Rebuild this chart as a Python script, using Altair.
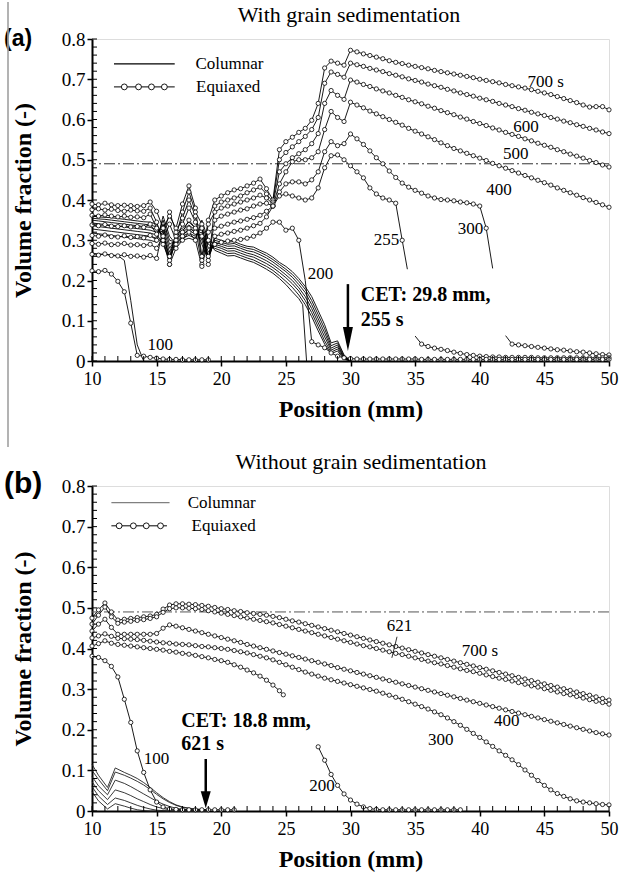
import altair as alt
import pandas as pd

SERIF = "Liberation Serif"
SANS = "Liberation Sans"
PLOT_W = 517
A_H = 322
B_H = 325
STEP = 0.5

X_TICKS = [10, 15, 20, 25, 30, 35, 40, 45, 50]
Y_TICKS = [0, 0.1, 0.2, 0.3, 0.4, 0.5, 0.6, 0.7, 0.8]
X_MINOR = list(range(10, 51))
Y_MINOR = [round(0.02 * i, 2) for i in range(41)]

# ---------------- (a) with grain sedimentation ----------------
# equiaxed volume fraction, sampled every 0.5 mm from the given start position
A_EQ_700 = [0.390, 0.388, 0.392, 0.388, 0.386, 0.387, 0.386, 0.384, 0.386, 0.395,
            0.372, 0.330, 0.360, 0.330, 0.390, 0.435, 0.380, 0.260, 0.350, 0.400,
            0.410, 0.418, 0.425, 0.428, 0.435, 0.442, 0.452, 0.428, 0.400, 0.525,
            0.545, 0.556, 0.568, 0.578, 0.598, 0.640, 0.728, 0.745, 0.740, 0.735,
            0.772,
            0.768, 0.763, 0.759, 0.755, 0.751, 0.746, 0.742, 0.739, 0.735, 0.732,
            0.729, 0.726, 0.722, 0.719, 0.716, 0.713, 0.710, 0.707, 0.704, 0.700,
            0.697, 0.694, 0.691, 0.687, 0.684, 0.681, 0.678, 0.674, 0.670, 0.666,
            0.662, 0.657, 0.652, 0.647, 0.642, 0.636, 0.631, 0.632, 0.632, 0.624]
A_EQ_600 = [0.376, 0.378, 0.375, 0.377, 0.374, 0.372, 0.375, 0.373, 0.372, 0.380,
            0.345, 0.300, 0.240, 0.310, 0.370, 0.420, 0.370, 0.340, 0.240, 0.385,
            0.395, 0.400, 0.405, 0.410, 0.418, 0.425, 0.432, 0.415, 0.395, 0.500,
            0.518, 0.532, 0.545, 0.558, 0.575, 0.605, 0.690, 0.718, 0.712, 0.705,
            0.740,
            0.736, 0.732, 0.727, 0.723, 0.719, 0.714, 0.710, 0.706, 0.701, 0.697,
            0.693, 0.688, 0.684, 0.680, 0.675, 0.671, 0.666, 0.662, 0.658, 0.653,
            0.649, 0.645, 0.640, 0.636, 0.632, 0.627, 0.623, 0.618, 0.614, 0.610,
            0.605, 0.601, 0.596, 0.592, 0.587, 0.583, 0.578, 0.574, 0.569, 0.565]
A_EQ_500 = [0.362, 0.360, 0.363, 0.360, 0.358, 0.360, 0.357, 0.358, 0.356, 0.365,
            0.330, 0.310, 0.370, 0.320, 0.355, 0.400, 0.360, 0.250, 0.340, 0.370,
            0.380, 0.385, 0.390, 0.395, 0.400, 0.405, 0.412, 0.405, 0.390, 0.470,
            0.490, 0.505, 0.515, 0.525, 0.540, 0.565, 0.640, 0.672, 0.660, 0.650,
            0.698,
            0.693, 0.687, 0.682, 0.676, 0.671, 0.666, 0.660, 0.655, 0.649, 0.644,
            0.639, 0.633, 0.628, 0.622, 0.617, 0.612, 0.606, 0.601, 0.595, 0.590,
            0.585, 0.579, 0.574, 0.568, 0.563, 0.558, 0.552, 0.547, 0.541, 0.536,
            0.531, 0.525, 0.520, 0.514, 0.509, 0.504, 0.498, 0.493, 0.487, 0.482]
A_EQ_400 = [0.338, 0.336, 0.339, 0.335, 0.334, 0.336, 0.333, 0.334, 0.332, 0.340,
            0.315, 0.290, 0.250, 0.300, 0.340, 0.380, 0.345, 0.330, 0.250, 0.350,
            0.360, 0.365, 0.370, 0.375, 0.378, 0.385, 0.390, 0.392, 0.385, 0.440,
            0.470, 0.495, 0.500, 0.500, 0.505, 0.520, 0.575, 0.620, 0.605, 0.595,
            0.643,
            0.636, 0.629, 0.621, 0.614, 0.607, 0.600, 0.593, 0.586, 0.578, 0.571,
            0.564, 0.557, 0.550, 0.542, 0.535, 0.528, 0.522, 0.516, 0.510, 0.504,
            0.498, 0.491, 0.485, 0.479, 0.473, 0.467, 0.461, 0.455, 0.449, 0.443,
            0.437, 0.430, 0.424, 0.418, 0.412, 0.406, 0.400, 0.394, 0.388, 0.382]
A_EQ_300 = [0.312, 0.310, 0.313, 0.309, 0.308, 0.311, 0.307, 0.309, 0.306, 0.312,
            0.300, 0.300, 0.340, 0.300, 0.320, 0.350, 0.330, 0.240, 0.320, 0.330,
            0.335, 0.340, 0.345, 0.348, 0.352, 0.356, 0.362, 0.372, 0.385, 0.420,
            0.440, 0.445, 0.445, 0.440, 0.450, 0.470, 0.520, 0.545, 0.535, 0.540,
            0.564, 0.552, 0.538, 0.522, 0.505, 0.490, 0.472, 0.456, 0.442, 0.432,
            0.424, 0.417, 0.410, 0.405, 0.401, 0.400, 0.398, 0.395, 0.393, 0.390,
            0.385, 0.330]
A_EQ_300_END = [(41.0, 0.230)]
A_EQ_300_TAIL = [0.042, 0.040, 0.038, 0.036, 0.034, 0.032, 0.030, 0.028,
                 0.027, 0.025, 0.023, 0.022, 0.020, 0.018, 0.016, 0.015]
A_EQ_300_TAIL_START = [(42.0, 0.063)]
A_EQ_255 = [0.292, 0.290, 0.293, 0.289, 0.290, 0.292, 0.288, 0.289, 0.287, 0.290,
            0.280, 0.310, 0.260, 0.290, 0.310, 0.330, 0.320, 0.310, 0.260, 0.310,
            0.315, 0.318, 0.322, 0.325, 0.330, 0.336, 0.342, 0.358, 0.385, 0.410,
            0.415, 0.410, 0.405, 0.400, 0.405, 0.430, 0.480, 0.510, 0.512, 0.500,
            0.485, 0.470, 0.455, 0.430, 0.415, 0.405, 0.400, 0.392, 0.300]
A_EQ_255_END = [(34.4, 0.228)]
A_EQ_255_TAIL = [0.042, 0.036, 0.032, 0.029, 0.026, 0.022, 0.019, 0.016, 0.014, 0.012,
                 0.011, 0.010, 0.010, 0.009, 0.009, 0.009, 0.009, 0.009, 0.008, 0.008,
                 0.008, 0.008, 0.008, 0.008, 0.008, 0.008, 0.008, 0.008, 0.008, 0.008]
A_EQ_255_TAIL_START = [(35.0, 0.062)]
A_EQ_200 = [0.265, 0.263, 0.266, 0.262, 0.261, 0.264, 0.260, 0.261, 0.258, 0.262,
            0.255, 0.330, 0.240, 0.280, 0.300, 0.320, 0.300, 0.235, 0.300, 0.290,
            0.295, 0.298, 0.300, 0.302, 0.305, 0.310, 0.318, 0.330, 0.345, 0.345,
            0.325, 0.330, 0.300]
A_EQ_200_DROP = [(26.5, 0.200)]
A_EQ_200_TAIL = [0.048, 0.040, 0.033, 0.020, 0.012, 0.008, 0.006,
                 0.005, 0.005, 0.005, 0.005, 0.005, 0.005, 0.005, 0.005, 0.005, 0.005,
                 0.004, 0.004, 0.004, 0.004, 0.004, 0.004, 0.004, 0.004, 0.004, 0.004,
                 0.004, 0.004, 0.004, 0.004, 0.004, 0.004, 0.004, 0.004, 0.004, 0.004,
                 0.004, 0.004, 0.004, 0.004, 0.004, 0.004, 0.004, 0.004, 0.004, 0.004]
A_EQ_100 = [0.224, 0.222, 0.225, 0.216, 0.198, 0.172, 0.094, 0.014, 0.012, 0.009,
            0.007, 0.005, 0.004, 0.004, 0.003, 0.003, 0.003, 0.003, 0.003]

# columnar volume fraction, every 0.5 mm from x = 10
A_COL_700 = [0.360, 0.358, 0.357, 0.356, 0.354, 0.352, 0.350, 0.348, 0.346, 0.345,
             0.340, 0.300, 0.250, 0.320, 0.330, 0.345, 0.330, 0.290, 0.250, 0.305,
             0.300, 0.295, 0.297, 0.290, 0.285, 0.283, 0.275, 0.268, 0.258, 0.245,
             0.235, 0.222, 0.205, 0.185, 0.160, 0.125, 0.090, 0.045, 0.050, 0.015, 0.000]
A_COL_600 = [0.355, 0.353, 0.352, 0.350, 0.348, 0.346, 0.344, 0.342, 0.340, 0.338,
             0.333, 0.310, 0.260, 0.315, 0.325, 0.338, 0.325, 0.300, 0.255, 0.300,
             0.295, 0.290, 0.292, 0.285, 0.280, 0.277, 0.270, 0.262, 0.252, 0.240,
             0.228, 0.215, 0.198, 0.178, 0.150, 0.115, 0.080, 0.038, 0.045, 0.012, 0.000]
A_COL_500 = [0.350, 0.348, 0.346, 0.344, 0.342, 0.340, 0.338, 0.336, 0.334, 0.332,
             0.327, 0.320, 0.270, 0.310, 0.320, 0.332, 0.320, 0.310, 0.260, 0.295,
             0.290, 0.285, 0.286, 0.280, 0.274, 0.271, 0.264, 0.256, 0.246, 0.234,
             0.222, 0.208, 0.190, 0.170, 0.140, 0.105, 0.070, 0.032, 0.040, 0.010, 0.000]
A_COL_400 = [0.343, 0.341, 0.339, 0.337, 0.335, 0.333, 0.331, 0.329, 0.327, 0.325,
             0.320, 0.330, 0.280, 0.305, 0.315, 0.325, 0.315, 0.320, 0.270, 0.290,
             0.285, 0.279, 0.280, 0.274, 0.268, 0.264, 0.257, 0.249, 0.239, 0.227,
             0.214, 0.200, 0.182, 0.160, 0.130, 0.095, 0.060, 0.027, 0.035, 0.008, 0.000]
A_COL_300 = [0.336, 0.334, 0.332, 0.330, 0.328, 0.326, 0.324, 0.322, 0.320, 0.318,
             0.313, 0.340, 0.290, 0.300, 0.310, 0.318, 0.310, 0.330, 0.280, 0.285,
             0.280, 0.273, 0.274, 0.268, 0.262, 0.258, 0.250, 0.242, 0.232, 0.220,
             0.207, 0.192, 0.174, 0.150, 0.120, 0.085, 0.050, 0.022, 0.030, 0.006, 0.000]
A_COL_255 = [0.328, 0.326, 0.324, 0.322, 0.320, 0.318, 0.316, 0.314, 0.312, 0.310,
             0.305, 0.350, 0.300, 0.295, 0.305, 0.312, 0.305, 0.340, 0.290, 0.280,
             0.274, 0.267, 0.268, 0.262, 0.256, 0.251, 0.243, 0.235, 0.225, 0.212,
             0.198, 0.183, 0.164, 0.140, 0.110, 0.075, 0.042, 0.018, 0.025, 0.004, 0.000]
A_COL_200 = [0.318, 0.316, 0.314, 0.312, 0.310, 0.308, 0.306, 0.304, 0.302, 0.300,
             0.295, 0.360, 0.310, 0.290, 0.300, 0.305, 0.300, 0.350, 0.300, 0.275,
             0.268, 0.261, 0.262, 0.256, 0.250, 0.245, 0.237, 0.228, 0.218, 0.205,
             0.190, 0.172, 0.155]
A_COL_200_DROP = [(26.3, 0.140), (26.6, 0.000)]
A_COL_100 = [0.268, 0.266, 0.265, 0.263, 0.262, 0.250, 0.150, 0.040, 0.000]

A_LABELS = [("100", 14.3, 0.040), ("200", 26.7, 0.216), ("255", 31.8, 0.300),
            ("300", 38.3, 0.328), ("400", 40.5, 0.425), ("500", 41.8, 0.514),
            ("600", 42.6, 0.581), ("700 s", 43.7, 0.693)]
A_CET = [("CET: 29.8 mm,", 30.8, 0.164), ("255 s", 30.8, 0.102)]
A_ARROW = dict(x=29.8, top=0.191, tip=0.025)

# ---------------- (b) without grain sedimentation ----------------
B_EQ_700 = [0.475, 0.495, 0.512, 0.490, 0.470, 0.472, 0.474, 0.476, 0.478, 0.480,
            0.484, 0.497, 0.507, 0.510, 0.510, 0.509, 0.508, 0.506, 0.504, 0.501,
            0.498, 0.496, 0.493, 0.491, 0.488, 0.486, 0.484, 0.482, 0.479, 0.476,
            0.472, 0.468, 0.465, 0.461, 0.457, 0.453, 0.449, 0.445, 0.441, 0.437,
            0.433, 0.429, 0.425, 0.421, 0.417, 0.413, 0.409, 0.405, 0.401, 0.397,
            0.393, 0.389, 0.385, 0.381, 0.377, 0.373, 0.369, 0.365, 0.361, 0.357,
            0.353, 0.349, 0.345, 0.341, 0.337, 0.333, 0.329, 0.325, 0.321, 0.317,
            0.313, 0.309, 0.305, 0.301, 0.297, 0.293, 0.289, 0.285, 0.281, 0.277, 0.273]
B_EQ_621 = [0.460, 0.482, 0.502, 0.478, 0.462, 0.465, 0.467, 0.469, 0.471, 0.474,
            0.478, 0.489, 0.498, 0.500, 0.500, 0.499, 0.498, 0.496, 0.493, 0.490,
            0.487, 0.484, 0.481, 0.478, 0.475, 0.472, 0.469, 0.466, 0.463, 0.459,
            0.455, 0.451, 0.447, 0.443, 0.439, 0.435, 0.431, 0.427, 0.423, 0.419,
            0.415, 0.411, 0.407, 0.404, 0.400, 0.396, 0.392, 0.388, 0.385, 0.381,
            0.377, 0.373, 0.369, 0.365, 0.362, 0.358, 0.354, 0.350, 0.346, 0.343,
            0.339, 0.335, 0.331, 0.327, 0.324, 0.320, 0.316, 0.312, 0.308, 0.305,
            0.301, 0.297, 0.293, 0.289, 0.286, 0.282, 0.278, 0.274, 0.270, 0.267, 0.263]
B_EQ_400 = [0.443, 0.460, 0.472, 0.452, 0.435, 0.435, 0.435, 0.435, 0.435, 0.435,
            0.437, 0.450, 0.458, 0.455, 0.451, 0.447, 0.443, 0.439, 0.435, 0.431,
            0.427, 0.423, 0.419, 0.415, 0.410, 0.406, 0.402, 0.398, 0.394, 0.390,
            0.386, 0.382, 0.378, 0.374, 0.370, 0.366, 0.362, 0.358, 0.353, 0.349,
            0.345, 0.341, 0.337, 0.333, 0.329, 0.325, 0.321, 0.317, 0.313, 0.309,
            0.305, 0.301, 0.297, 0.293, 0.289, 0.285, 0.281, 0.277, 0.273, 0.269,
            0.265, 0.261, 0.257, 0.253, 0.249, 0.245, 0.241, 0.237, 0.233, 0.229,
            0.225, 0.221, 0.217, 0.213, 0.209, 0.205, 0.201, 0.197, 0.193, 0.190, 0.187]
B_EQ_300 = [0.426, 0.431, 0.436, 0.430, 0.425, 0.424, 0.423, 0.422, 0.420, 0.418,
            0.416, 0.414, 0.413, 0.411, 0.410, 0.409, 0.407, 0.405, 0.404, 0.402,
            0.400, 0.398, 0.395, 0.392, 0.389, 0.385, 0.381, 0.377, 0.372, 0.366,
            0.360, 0.354, 0.348, 0.342, 0.337, 0.332, 0.327, 0.323, 0.319, 0.315,
            0.311, 0.307, 0.303, 0.299, 0.295, 0.290, 0.285, 0.280, 0.275, 0.269,
            0.263, 0.257, 0.251, 0.244, 0.237, 0.229, 0.220, 0.211, 0.201, 0.191,
            0.181, 0.170, 0.159, 0.148, 0.137, 0.126, 0.114, 0.101, 0.088, 0.075,
            0.063, 0.052, 0.043, 0.036, 0.030, 0.025, 0.022, 0.020, 0.018, 0.016, 0.015]
B_EQ_200 = [0.406, 0.412, 0.419, 0.413, 0.410, 0.408, 0.406, 0.404, 0.402, 0.400,
            0.398, 0.396, 0.393, 0.391, 0.388, 0.386, 0.383, 0.380, 0.377, 0.373,
            0.370, 0.366, 0.360, 0.354, 0.347, 0.340, 0.332, 0.322, 0.310, 0.296]
B_EQ_200_LAST = [0.286]
B_EQ_200_TAIL = [0.158, 0.125, 0.090, 0.063, 0.042, 0.027, 0.017, 0.010, 0.006, 0.004,
                 0.003, 0.003, 0.003, 0.003, 0.003, 0.003, 0.003, 0.003, 0.003, 0.003,
                 0.003, 0.003, 0.003]
B_EQ_100 = [0.381, 0.378, 0.370, 0.356, 0.330, 0.275, 0.218, 0.148, 0.095, 0.052,
            0.022, 0.010, 0.005, 0.004, 0.003, 0.003, 0.003, 0.003, 0.003, 0.003,
            0.003, 0.003, 0.003]

# columnar volume fraction near the chill end
B_COL_X = [10, 10.5, 11.2, 11.8, 12.5, 13, 13.5, 14, 14.5, 15, 15.5, 16, 16.5, 17, 17.5, 18, 18.5, 19]
B_COL = {
    "700": [0.115, 0.088, 0.058, 0.106, 0.095, 0.088, 0.080, 0.070, 0.058, 0.045, 0.033, 0.023, 0.015, 0.010, 0.007, 0.005, 0.004, 0.003],
    "621": [0.100, 0.078, 0.050, 0.096, 0.088, 0.081, 0.073, 0.064, 0.053, 0.041, 0.030, 0.021, 0.014, 0.009, 0.006, 0.004, 0.003, 0.002],
    "400": [0.085, 0.062, 0.040, 0.076, 0.068, 0.060, 0.051, 0.042, 0.033, 0.024, 0.017, 0.011, 0.007, 0.004, 0.003, 0.002, 0.001, 0.000],
    "300": [0.072, 0.050, 0.028, 0.052, 0.045, 0.038, 0.030, 0.023, 0.016, 0.010, 0.006, 0.003, 0.002, 0.001, 0.000, 0.000, 0.000, 0.000],
    "200": [0.060, 0.037, 0.016, 0.032, 0.026, 0.020, 0.014, 0.009, 0.005, 0.002, 0.001, 0.000, 0.000, 0.000, 0.000, 0.000, 0.000, 0.000],
    "100": [0.048, 0.025, 0.005, 0.018, 0.012, 0.007, 0.003, 0.001, 0.000, 0.000, 0.000, 0.000, 0.000, 0.000, 0.000, 0.000, 0.000, 0.000],
}

B_LABELS = [("100", 14.0, 0.128), ("200", 26.8, 0.062), ("300", 36.0, 0.175),
            ("400", 41.1, 0.222), ("700 s", 38.6, 0.394), ("621", 32.8, 0.456)]
B_LEADER = [(33.6, 0.429, 33.2, 0.377)]
B_CET = [("CET: 18.8 mm,", 16.9, 0.222), ("621 s", 16.9, 0.165)]
B_ARROW = dict(x=18.8, top=0.128, tip=0.007)

CRITICAL = 0.49


def grid(x0, ys):
    return [(round(x0 + STEP * i, 2), v) for i, v in enumerate(ys)]


def eq_rows(name, pieces, extras=()):
    rows = []
    for x0, ys in pieces:
        rows += [dict(series=name, x=x, y=v, dot=True) for x, v in grid(x0, ys)]
    rows += [dict(series=name, x=x, y=v, dot=False) for x, v in extras]
    return rows


def col_rows(name, x0, ys, extras=()):
    rows = [dict(series=name, x=x, y=v) for x, v in grid(x0, ys)]
    rows += [dict(series=name, x=x, y=v) for x, v in extras]
    return rows


a_eq = pd.DataFrame(
    eq_rows("700", [(10, A_EQ_700)]) + eq_rows("600", [(10, A_EQ_600)])
    + eq_rows("500", [(10, A_EQ_500)]) + eq_rows("400", [(10, A_EQ_400)])
    + eq_rows("300", [(10, A_EQ_300)], A_EQ_300_END)
    + eq_rows("300 tail", [(42.5, A_EQ_300_TAIL)], A_EQ_300_TAIL_START)
    + eq_rows("255", [(10, A_EQ_255)], A_EQ_255_END)
    + eq_rows("255 tail", [(35.5, A_EQ_255_TAIL)], A_EQ_255_TAIL_START)
    + eq_rows("200", [(10, A_EQ_200), (27, A_EQ_200_TAIL)], A_EQ_200_DROP)
    + eq_rows("100", [(10, A_EQ_100)])
)
a_col = pd.DataFrame(
    col_rows("700", 10, A_COL_700) + col_rows("600", 10, A_COL_600)
    + col_rows("500", 10, A_COL_500) + col_rows("400", 10, A_COL_400)
    + col_rows("300", 10, A_COL_300) + col_rows("255", 10, A_COL_255)
    + col_rows("200", 10, A_COL_200, A_COL_200_DROP) + col_rows("100", 10, A_COL_100)
)
b_eq = pd.DataFrame(
    eq_rows("700", [(10, B_EQ_700)]) + eq_rows("621", [(10, B_EQ_621)])
    + eq_rows("400", [(10, B_EQ_400)]) + eq_rows("300", [(10, B_EQ_300)])
    + eq_rows("200", [(10, B_EQ_200), (24.8, B_EQ_200_LAST)])
    + eq_rows("200 tail", [(27.5, B_EQ_200_TAIL)])
    + eq_rows("100", [(10, B_EQ_100)])
)
b_col = pd.DataFrame([dict(series=k, x=x, y=v) for k, ys in B_COL.items() for x, v in zip(B_COL_X, ys)])


def xq(field="x"):
    return alt.X(f"{field}:Q", scale=alt.Scale(domain=[10, 50], nice=False, zero=False),
                 axis=alt.Axis(values=X_TICKS, format="d", grid=False, title="Position (mm)",
                               labelFont=SERIF, labelFontSize=18, labelColor="black",
                               labelPadding=4, labelFlush=False, labelOverlap=False,
                               tickSize=5, tickWidth=1.5, tickColor="black",
                               domainColor="black", domainWidth=2,
                               titleFont=SERIF, titleFontSize=24, titleFontWeight="bold",
                               titleColor="black", titleY=48, titleBaseline="middle"))


def yq(h, field="y"):
    return alt.Y(f"{field}:Q", scale=alt.Scale(domain=[0, 0.8], nice=False, zero=False),
                 axis=alt.Axis(values=Y_TICKS, grid=False, title="Volume fraction (-)",
                               labelExpr="datum.value == 0 ? '0' : format(datum.value, '.1f')",
                               labelFont=SERIF, labelFontSize=19, labelColor="black",
                               labelPadding=2, labelFlush=False, labelOverlap=False,
                               tickSize=5, tickWidth=1.5, tickColor="black",
                               domainColor="black", domainWidth=2,
                               titleFont=SERIF, titleFontSize=24, titleFontWeight="bold",
                               titleColor="black", titleX=-69, titleY=h / 2, titleAngle=270,
                               titleAlign="center", titleBaseline="middle"))


def one(**kw):
    return pd.DataFrame([kw])


def panel(h, eq, col, labels, cet, arrow, head_len, head_half, legend, title, title_x, title_y,
          tag, tag_size, tag_y, ref_color, legend_col_color, col_color, page_line=False,
          leader=()):
    layers = []
    layers.append(alt.Chart(one(y=CRITICAL)).mark_rule(
        color=ref_color, strokeWidth=1, strokeDash=[11, 3, 2, 3]).encode(y=yq(h)))
    layers.append(alt.Chart(col).mark_line(color=col_color, strokeWidth=0.9).encode(
        x=xq(), y=yq(h), detail="series:N"))
    layers.append(alt.Chart(eq).mark_line(color="black", strokeWidth=0.9).encode(
        x=xq(), y=yq(h), detail="series:N"))
    layers.append(alt.Chart(eq).transform_filter("datum.dot").mark_point(
        shape="circle", fill="white", stroke="black", fillOpacity=1, opacity=1,
        strokeWidth=0.8, size=18).encode(x=xq(), y=yq(h)))
    # inner ticks
    layers.append(alt.Chart(pd.DataFrame({"x": X_MINOR})).mark_rule(
        color="black", strokeWidth=1).encode(x=xq(), y=alt.value(h), y2=alt.value(h - 5)))
    layers.append(alt.Chart(pd.DataFrame({"y": Y_MINOR})).mark_rule(
        color="black", strokeWidth=1).encode(y=yq(h), x=alt.value(0), x2=alt.value(5)))
    # curve labels
    lab = pd.DataFrame(labels, columns=["text", "x", "y"])
    layers.append(alt.Chart(lab).mark_text(
        font=SERIF, fontSize=17, align="left", baseline="middle", color="black").encode(
        x=xq(), y=yq(h), text="text:N"))
    if leader:
        ld = pd.DataFrame(leader, columns=["x", "y", "x2", "y2"])
        layers.append(alt.Chart(ld).mark_rule(color="black", strokeWidth=0.8).encode(
            x=xq(), y=yq(h), x2="x2:Q", y2="y2:Q"))
    ct = pd.DataFrame(cet, columns=["text", "x", "y"])
    layers.append(alt.Chart(ct).mark_text(
        font=SERIF, fontSize=20, fontWeight="bold", align="left", baseline="middle",
        color="black").encode(x=xq(), y=yq(h), text="text:N"))
    # CET arrow
    layers.append(alt.Chart(one(x=arrow["x"], y=arrow["top"], y2=arrow["tip"] + 0.02)).mark_rule(
        color="black", strokeWidth=2.5).encode(x=xq(), y=yq(h), y2="y2:Q"))
    unit = head_len / 2.0
    w = head_half / unit
    head = f"M{-w:.3f},-2L{w:.3f},-2L0,0Z"
    layers.append(alt.Chart(one(x=arrow["x"], y=arrow["tip"])).mark_point(
        shape=head, filled=True, color="black", opacity=1, size=head_len ** 2).encode(
        x=xq(), y=yq(h)))
    # legend
    lg = legend
    layers.append(alt.Chart(one(x=lg["x0"], x2=lg["x1"], y=lg["y_col"])).mark_rule(
        color=legend_col_color, strokeWidth=1.2).encode(x=xq(), x2="x2:Q", y=yq(h)))
    layers.append(alt.Chart(one(x=lg["x0"], x2=lg["x1e"], y=lg["y_eq"])).mark_rule(
        color="black", strokeWidth=1).encode(x=xq(), x2="x2:Q", y=yq(h)))
    layers.append(alt.Chart(pd.DataFrame({"x": lg["dots"], "y": [lg["y_eq"]] * len(lg["dots"])})).mark_point(
        shape="circle", fill="white", stroke="black", fillOpacity=1, opacity=1,
        strokeWidth=0.9, size=34).encode(x=xq(), y=yq(h)))
    lt = pd.DataFrame([("Columnar", lg["tx_col"], lg["y_col"]), ("Equiaxed", lg["tx_eq"], lg["y_eq"])],
                      columns=["text", "x", "y"])
    layers.append(alt.Chart(lt).mark_text(
        font=SERIF, fontSize=17, align="left", baseline="middle", color="black").encode(
        x=xq(), y=yq(h), text="text:N"))
    # panel heading and tag
    layers.append(alt.Chart(one(t=title)).mark_text(
        font=SERIF, fontSize=22, align="center", baseline="middle", color="black").encode(
        x=alt.value(title_x), y=alt.value(title_y), text="t:N"))
    layers.append(alt.Chart(one(t=tag)).mark_text(
        font=SANS, fontSize=tag_size, fontWeight="bold", align="left", baseline="middle",
        color="black").encode(x=alt.value(-88), y=alt.value(tag_y), text="t:N"))
    if page_line:
        layers.append(alt.Chart(one(v=1)).mark_rule(color="#a0a0a0", strokeWidth=1.6).encode(
            x=alt.value(-84), y=alt.value(-37), y2=alt.value(408)))
    return alt.layer(*layers).properties(width=PLOT_W, height=h)


panel_a = panel(
    A_H, a_eq, a_col, A_LABELS, A_CET, A_ARROW, 24, 5,
    dict(x0=11.7, x1=16.4, x1e=16.4, y_col=0.738, y_eq=0.681,
         dots=[12.5, 13.6, 14.6, 15.6], tx_col=18.0, tx_eq=18.05),
    "With grain sedimentation", 257, -24, "(a)", 23, 0, "#333333", "black", "black",
    page_line=True)
panel_b = panel(
    B_H, b_eq, b_col, B_LABELS, B_CET, B_ARROW, 17, 5,
    dict(x0=11.5, x1=16.0, x1e=15.8, y_col=0.759, y_eq=0.702,
         dots=[12.1, 13.2, 14.2, 15.3], tx_col=17.4, tx_eq=17.7),
    "Without grain sedimentation", 269, -24, "(b)", 30, -2, "#555555", "#808080", "#222222",
    leader=B_LEADER)

chart = alt.vconcat(panel_a, panel_b, spacing=1).properties(
    padding={"left": 3, "top": 0, "right": 0, "bottom": 0}
).configure_view(stroke="black", strokeWidth=1.5).configure(background="white")

chart.save("out.html", embed_options={"renderer": "svg", "actions": False})
